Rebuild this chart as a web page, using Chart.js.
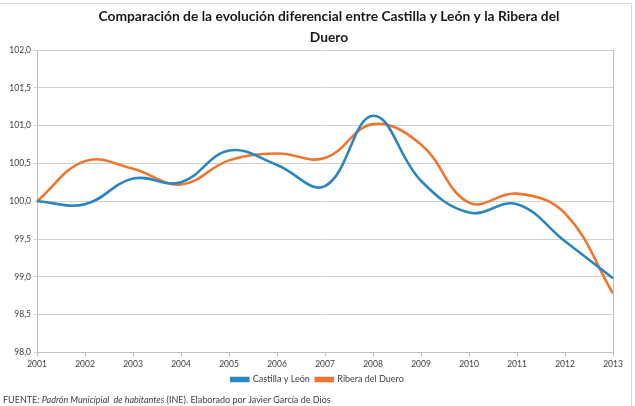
<!DOCTYPE html>
<html><head><meta charset="utf-8">
<script src="https://cdn.jsdelivr.net/npm/chart.js@4.4.0/dist/chart.umd.min.js"></script>
<style>
html,body{margin:0;padding:0;background:#fff;width:635px;height:406px;overflow:hidden}
#frame{position:absolute;left:-2px;top:3px;width:634px;height:420px;border:1px solid #d9d9d9;box-sizing:border-box}
#wrap{position:absolute;left:0;top:0;width:635px;height:406px}
</style></head><body>
<div id="frame"></div>
<div id="wrap"><canvas id="c" width="635" height="406"></canvas></div>
<script>
const years = ['2001','2002','2003','2004','2005','2006','2007','2008','2009','2010','2011','2012','2013'];
const castillaLeon = [100.00, 99.96, 100.30, 100.25, 100.67, 100.48, 100.20, 101.13, 100.27, 99.85, 99.96, 99.47, 98.98];
const riberaDuero  = [100.00, 100.53, 100.43, 100.22, 100.54, 100.63, 100.57, 101.02, 100.75, 99.98, 100.10, 99.84, 98.78];
const titleLines = ['Comparación de la evolución diferencial entre Castilla y León y la Ribera del', 'Duero'];
const sourceParts = [['FUENTE: ', false], ['Padrón Municipial  de habitantes', true], [' (INE). Elaborado por Javier García de Dios', false]];
const yMin = 98, yMax = 102, yStep = 0.5;

const FONT = 'Lato, "Open Sans", sans-serif';

const extras = {
  id: 'extras',
  afterLayout(chart) {
    if (chart.legend) { chart.legend.left += 11; chart.legend.right += 11; }
  },
  afterDraw(chart) {
    const ctx = chart.ctx, a = chart.chartArea;
    ctx.save();
    ctx.strokeStyle = '#bfbfbf';
    ctx.lineWidth = 1;
    ctx.beginPath();
    ctx.moveTo(Math.round(a.right) + 0.5, a.top);
    ctx.lineTo(Math.round(a.right) + 0.5, a.bottom);
    ctx.stroke();
    ctx.fillStyle = '#1a1a1a';
    ctx.font = 'bold 13.8px ' + FONT;
    ctx.textAlign = 'center';
    ctx.textBaseline = 'middle';
    ctx.fillText(titleLines[0], 329, 17);
    ctx.fillText(titleLines[1], 329, 38);
    ctx.textAlign = 'left';
    ctx.fillStyle = '#404040';
    let x = 3;
    for (const [t, it] of sourceParts) {
      ctx.font = (it ? 'italic ' : '') + '9px ' + FONT;
      ctx.fillText(t, x, 400);
      x += ctx.measureText(t).width;
    }
    ctx.restore();
  }
};

new Chart(document.getElementById('c'), {
  type: 'line',
  data: {
    labels: years,
    datasets: [
      { label: 'Castilla y León', data: castillaLeon, borderColor: '#2B86C0', backgroundColor: '#2B86C0', borderWidth: 2.6, pointRadius: 0, tension: 0.4, fill: false },
      { label: 'Ribera del Duero', data: riberaDuero, borderColor: '#EF7631', backgroundColor: '#EF7631', borderWidth: 2.6, pointRadius: 0, tension: 0.4, fill: false }
    ]
  },
  options: {
    responsive: false,
    animation: false,
    devicePixelRatio: 1,
    layout: { padding: { top: 50, right: 22, bottom: 12, left: 0 } },
    plugins: {
      title: { display: false },
      tooltip: { enabled: false },
      legend: {
        position: 'bottom',
        labels: {
          boxWidth: 17, boxHeight: 3, padding: 6,
          color: '#404040',
          font: { family: FONT, size: 9 }
        }
      }
    },
    scales: {
      x: {
        offset: false,
        grid: { drawOnChartArea: false, tickLength: 4, color: '#bfbfbf' },
        border: { color: '#bfbfbf' },
        ticks: { padding: 3, maxRotation: 0, color: '#404040', font: { family: FONT, size: 8.5 } },
        afterFit(s) { s.height = 16.6; }
      },
      y: {
        min: yMin, max: yMax,
        grid: { color: '#d0d0d0', tickLength: 3 },
        border: { color: '#bfbfbf' },
        ticks: {
          stepSize: yStep, padding: 3, color: '#404040', font: { family: FONT, size: 8.5 },
          callback: v => v.toFixed(1).replace('.', ',')
        },
        afterFit(s) { s.width = 37; }
      }
    }
  },
  plugins: [extras]
});
</script>
</body></html>
